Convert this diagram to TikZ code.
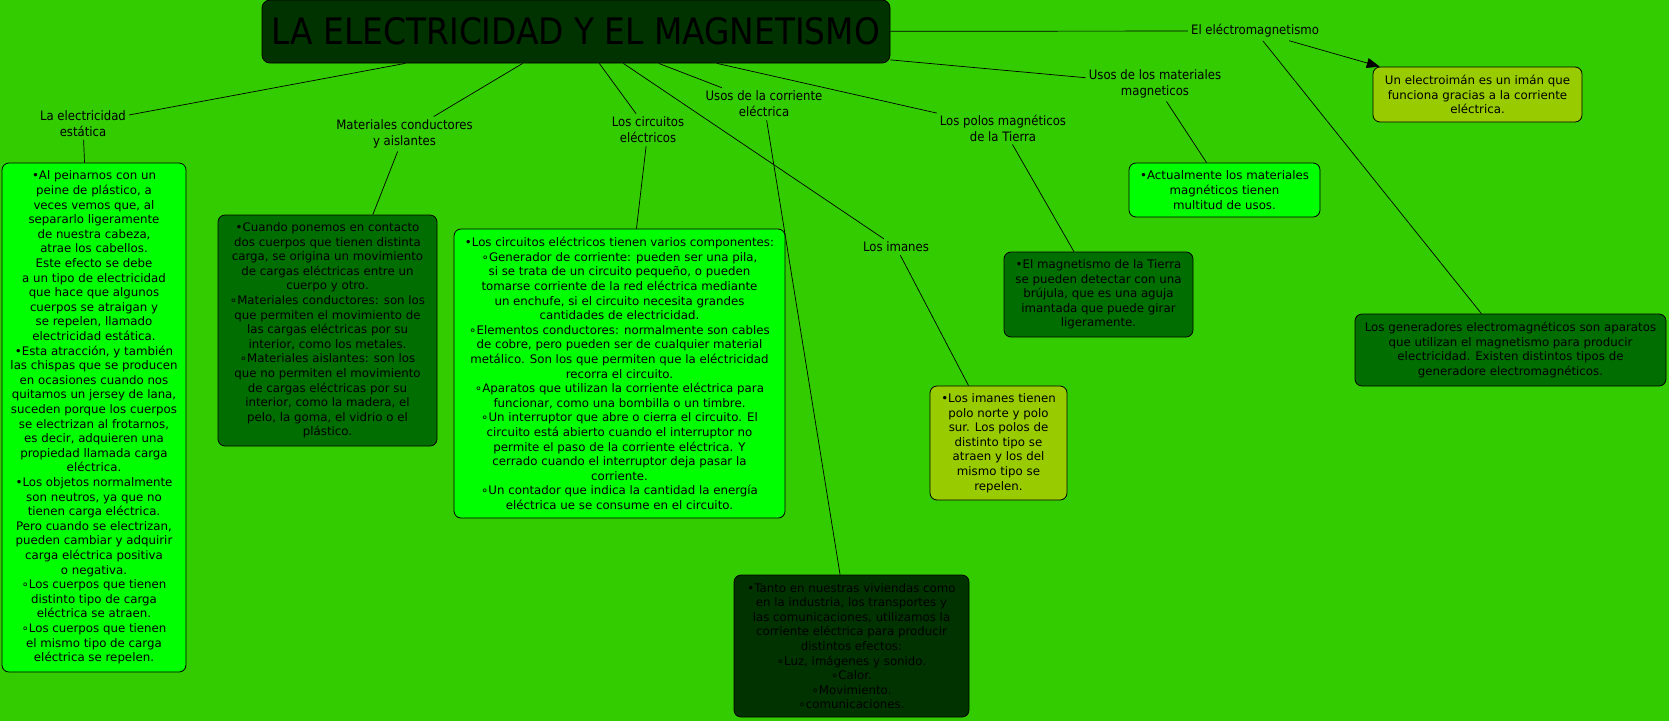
\documentclass[tikz,border=0pt]{standalone}
\usepackage{fontspec}
\setmainfont{DejaVu Sans}
\newfontfamily\labf{DejaVu Sans Condensed}
\usetikzlibrary{arrows.meta}
\definecolor{bgc}{HTML}{33CC00}
\definecolor{lgreen}{HTML}{00FF00}
\definecolor{dgreen}{HTML}{006E00}
\definecolor{vdgreen}{HTML}{003300}
\definecolor{ygreen}{HTML}{99CC00}
\pgfdeclarelayer{bglayer}
\pgfdeclarelayer{edges}
\pgfsetlayers{bglayer,edges,main}
\newcommand{\rb}{∘}
\begin{document}
\begin{tikzpicture}[x=1pt,y=-1pt,
  box/.style={draw=black, line width=0.8pt, rounded corners=7pt, align=center,
    inner sep=0pt, font=\fontsize{11.8}{14.6}\selectfont, text=black},
  lab/.style={align=center, inner sep=3pt, font=\labf\fontsize{13}{16}\selectfont, text=black},
  conn/.style={draw=black, line width=0.7pt}]
\begin{pgfonlayer}{bglayer}
\fill[bgc] (0,0) rectangle (1669,721);
\end{pgfonlayer}
\useasboundingbox (0,0) rectangle (1669,721);

% title
\node[box, fill=vdgreen, minimum width=628pt, minimum height=63pt, rounded corners=8pt,
  font=\labf\fontsize{36.5}{40}\selectfont] (main) at (576,31.5) {LA ELECTRICIDAD Y EL MAGNETISMO};

% linking labels
\node[lab] (l1) at (83,123.5) {La electricidad\\estática};
\node[lab] (l2) at (404.5,134) {Materiales conductores\\y aislantes};
\node[lab] (l3) at (648,130) {Los circuitos\\eléctricos};
\node[lab] (l4) at (764,104) {Usos de la corriente\\eléctrica};
\node[lab] (l5) at (1003,128) {Los polos magnéticos\\de la Tierra};
\node[lab] (l6) at (1155,84) {Usos de los materiales\\magneticos};
\node[lab] (l7) at (1255,31) {El eléctromagnetismo};
\node[lab] (l8) at (896,247) {Los imanes};

% boxes
\node[box, fill=lgreen, minimum width=184pt, minimum height=509pt] (b1) at (94,417.5) {%
•Al peinarnos con un\\
peine de plástico, a\\
veces vemos que, al\\
separarlo ligeramente\\
de nuestra cabeza,\\
atrae los cabellos.\\
Este efecto se debe\\
a un tipo de electricidad\\
que hace que algunos\\
cuerpos se atraigan y\\
se repelen, llamado\\
electricidad estática.\\
•Esta atracción, y también\\
las chispas que se producen\\
en ocasiones cuando nos\\
quitamos un jersey de lana,\\
suceden porque los cuerpos\\
se electrizan al frotarnos,\\
es decir, adquieren una\\
propiedad llamada carga\\
eléctrica.\\
•Los objetos normalmente\\
son neutros, ya que no\\
tienen carga eléctrica.\\
Pero cuando se electrizan,\\
pueden cambiar y adquirir\\
carga eléctrica positiva\\
o negativa.\\
\rb Los cuerpos que tienen\\
distinto tipo de carga\\
eléctrica se atraen.\\
\rb Los cuerpos que tienen\\
el mismo tipo de carga\\
eléctrica se repelen.};

\node[box, fill=dgreen, minimum width=219pt, minimum height=231pt] (b2) at (327.5,330.5) {%
•Cuando ponemos en contacto\\
dos cuerpos que tienen  distinta\\
carga, se origina un movimiento\\
de cargas eléctricas entre un\\
cuerpo y otro.\\
\rb Materiales conductores: son los\\
que permiten el movimiento de\\
las cargas eléctricas por su\\
interior, como los metales.\\
\rb Materiales aislantes: son los\\
que no permiten el movimiento\\
de cargas eléctricas por su\\
interior, como la madera, el\\
pelo, la goma, el vidrio o el\\
plástico.};

\node[box, fill=lgreen, minimum width=331pt, minimum height=289pt] (b3) at (619.5,373.5) {%
•Los circuitos eléctricos tienen varios componentes:\\
\rb Generador de corriente: pueden ser una pila,\\
si se trata de un circuito pequeño, o pueden\\
tomarse corriente de la red eléctrica mediante\\
un enchufe, si el circuito necesita grandes\\
cantidades de electricidad.\\
\rb Elementos conductores: normalmente son cables\\
de cobre, pero pueden ser de cualquier material\\
metálico. Son los que permiten que la eléctricidad\\
recorra el circuito.\\
\rb Aparatos que utilizan la corriente eléctrica para\\
funcionar, como una bombilla o un timbre.\\
\rb Un interruptor que abre o cierra el circuito. El\\
circuito está abierto cuando el interruptor no\\
permite el paso de la corriente eléctrica. Y\\
cerrado cuando el interruptor deja pasar la\\
corriente.\\
\rb Un contador que indica la cantidad la energía\\
eléctrica ue se consume en el circuito.};

\node[box, fill=vdgreen, minimum width=235pt, minimum height=142pt] (b4) at (851.5,646) {%
•Tanto en nuestras viviendas como\\
en la industria, los transportes y\\
las comunicaciones, utilizamos la\\
corriente eléctrica para producir\\
distintos efectos:\\
\rb Luz, imágenes y sonido.\\
\rb Calor.\\
\rb Movimiento.\\
\rb comunicaciones.};

\node[box, fill=ygreen, minimum width=137pt, minimum height=114pt] (b5) at (998.5,443) {%
•Los imanes tienen\\
polo norte y polo\\
sur. Los polos de\\
distinto tipo se\\
atraen y los del\\
mismo tipo se\\
repelen.};

\node[box, fill=dgreen, minimum width=189pt, minimum height=85pt] (b6) at (1098.5,294.5) {%
•El magnetismo de la Tierra\\
se pueden detectar con una\\
brújula, que es una aguja\\
imantada que puede girar\\
ligeramente.};

\node[box, fill=lgreen, minimum width=191pt, minimum height=54pt] (b7) at (1224.5,190) {%
•Actualmente los materiales\\
magnéticos tienen\\
multitud de usos.};

\node[box, fill=ygreen, minimum width=209pt, minimum height=55pt] (b8) at (1477.5,94.5) {%
Un electroimán es un imán que\\
funciona gracias a la corriente\\
eléctrica.};

\node[box, fill=dgreen, minimum width=311pt, minimum height=72pt] (b9) at (1510.5,350) {%
Los generadores electromagnéticos son aparatos\\
que utilizan el magnetismo para producir\\
electricidad. Existen distintos tipos de\\
generadore electromagnéticos.};

% connectors
\begin{pgfonlayer}{edges}
\draw[conn] (main) -- (l1);
\draw[conn] (l1) -- (b1);
\draw[conn] (main) -- (l2);
\draw[conn] (l2) -- (b2);
\draw[conn] (main) -- (l3);
\draw[conn] (l3) -- (b3);
\draw[conn] (main) -- (l4);
\draw[conn] (l4) -- (b4);
\draw[conn] (main) -- (l5);
\draw[conn] (l5) -- (b6);
\draw[conn] (main) -- (l6);
\draw[conn] (l6) -- (b7);
\draw[conn] (main) -- (l7);
\draw[conn, -{Triangle[length=13pt,width=10pt]}] (l7) -- (b8);
\draw[conn] (l7) -- (b9);
\draw[conn] (main) -- (l8);
\draw[conn] (l8) -- (b5);
\end{pgfonlayer}
\end{tikzpicture}
\end{document}
